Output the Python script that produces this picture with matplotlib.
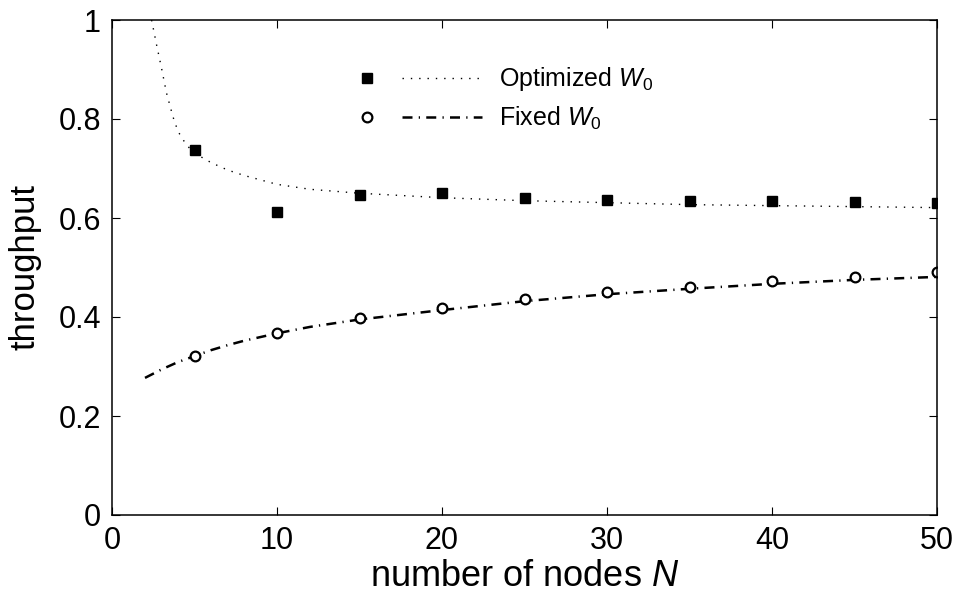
import matplotlib
matplotlib.use("Agg")
import matplotlib.pyplot as plt
from matplotlib.lines import Line2D
from matplotlib.legend_handler import HandlerBase

plt.rcParams['font.family'] = ['Liberation Sans', 'DejaVu Sans']
plt.rcParams['mathtext.fontset'] = 'custom'
plt.rcParams['mathtext.rm'] = 'Liberation Sans'
plt.rcParams['mathtext.it'] = 'Liberation Sans:italic'

# simulation points
n_sim = [5, 10, 15, 20, 25, 30, 35, 40, 45, 50]
opt_sim = [0.737, 0.612, 0.646, 0.651, 0.640, 0.636, 0.634, 0.635, 0.633, 0.630]
fixed_sim = [0.321, 0.368, 0.398, 0.419, 0.437, 0.451, 0.461, 0.472, 0.481, 0.490]

# analytical curves
n_opt = [2.4, 2.7, 3.0, 3.3, 3.7, 4.0, 4.5, 5, 6, 7, 8, 10, 12, 15, 20, 25, 30, 35, 40, 45, 50]
opt_model = [1.0, 0.95, 0.903, 0.853, 0.804, 0.775, 0.748, 0.731, 0.712, 0.697, 0.686,
             0.668, 0.658, 0.650, 0.641, 0.635, 0.631, 0.627, 0.625, 0.623, 0.621]
n_fixed = [2, 3, 4, 5, 6, 7, 8, 10, 12, 15, 20, 25, 30, 35, 40, 45, 50]
fixed_model = [0.277, 0.294, 0.309, 0.321, 0.333, 0.343, 0.352, 0.367, 0.380, 0.395,
               0.414, 0.432, 0.446, 0.457, 0.467, 0.475, 0.481]

labels = ['Optimized $W_{\\mathit{0}}$', 'Fixed $W_{\\mathit{0}}$']

DOT = dict(color='k', lw=1.0, dashes=(1, 5))
DASHDOT = dict(color='k', lw=1.8, dashes=(4, 2.5, 0.5, 2.5))
SQ = dict(marker='s', ms=7.5, color='k', ls='none')
CIRC = dict(marker='o', ms=7, mfc='white', mec='k', mew=1.6, ls='none')


class MarkerThenLine(HandlerBase):
    # marker on the left, line sample on the right
    def create_artists(self, legend, orig_handle, xdescent, ydescent,
                       width, height, fontsize, trans):
        mk, ln = orig_handle
        y = height / 2 - ydescent
        m = Line2D([], [])
        m.update_from(mk)
        m.set_data([width * 0.15 - xdescent], [y])
        l = Line2D([], [])
        l.update_from(ln)
        l.set_data([width * 0.41 - xdescent, width - xdescent], [y, y])
        m.set_transform(trans)
        l.set_transform(trans)
        return [m, l]


fig = plt.figure(figsize=(9.57, 5.98), dpi=100)
ax = fig.add_axes([112 / 957, 1 - 515 / 598, 825 / 957, 495 / 598])

l1, = ax.plot(n_opt, opt_model, **DOT)
l2, = ax.plot(n_fixed, fixed_model, **DASHDOT)
m1, = ax.plot(n_sim, opt_sim, **SQ)
m2, = ax.plot(n_sim, fixed_sim, **CIRC)

ax.set_xlim(0, 50)
ax.set_ylim(0, 1)
ax.set_xticks([0, 10, 20, 30, 40, 50])
ax.set_yticks([0, 0.2, 0.4, 0.6, 0.8, 1])
ax.set_yticklabels(['0', '0.2', '0.4', '0.6', '0.8', '1'])
ax.tick_params(direction='in', top=True, right=True, length=6, width=0.8,
               labelsize=22, pad=8)
for s in ax.spines.values():
    s.set_linewidth(1.1)

ax.set_xlabel('number of nodes $N$', fontsize=26, labelpad=2)
ax.set_ylabel('throughput', fontsize=25, labelpad=12)

ax.legend([(m1, l1), (m2, l2)], labels,
          handler_map={tuple: MarkerThenLine()},
          loc='center left', bbox_to_anchor=(0.284, 0.841),
          frameon=False, fontsize=18, borderpad=0, borderaxespad=0,
          handlelength=5.44, handletextpad=0.68, labelspacing=0.45)

fig.savefig('out.png', dpi=100)
